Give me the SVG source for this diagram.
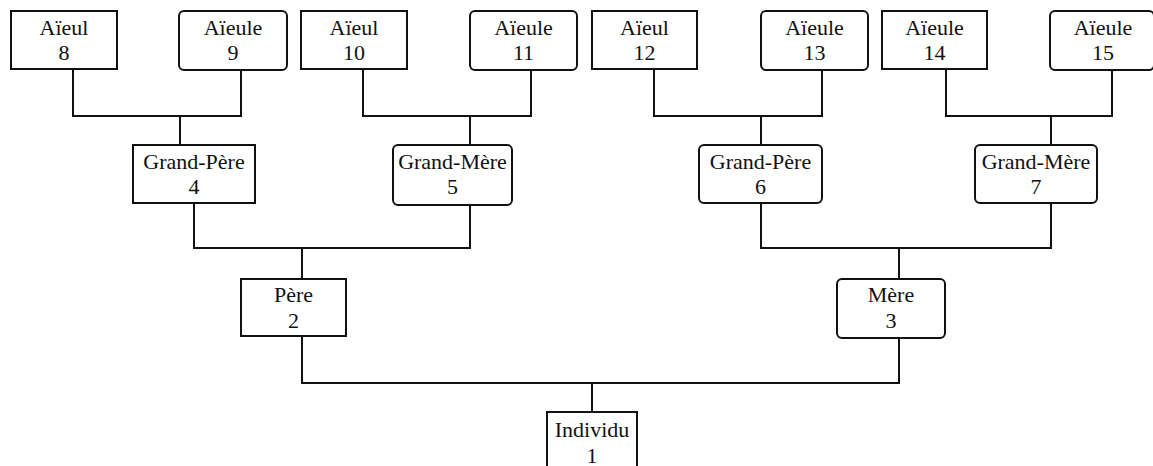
<svg xmlns="http://www.w3.org/2000/svg" width="1153" height="466" viewBox="0 0 1153 466">
<style>
.b{fill:#fff;stroke:#111;stroke-width:2}
.c{fill:none;stroke:#111;stroke-width:2}
text{font-size:22px;fill:#111;text-anchor:middle;font-family:'Times New Roman',serif}
#n1 text,#n2 text,#n3 text,#n4 text,#n5 text,#n6 text,#n7 text,#n8 text,#n9 text,#n10 text,#n11 text,#n12 text,#n13 text,#n14 text,#n15 text{font-family:'Times New Roman',serif}
</style>
<rect width="1153" height="466" fill="#fff"/>
<g id="connectors" class="c">
<path d="M73 69V116H241V70M180 116V145"/>
<path d="M363 69V116H531V70M470 116V145"/>
<path d="M654 69V116H822V70M761 116V145"/>
<path d="M946 69V116H1112V70M1051 116V145"/>
<path d="M194 203V248H470V205M302 248V279"/>
<path d="M761 203V248H1051V203M899 248V279"/>
<path d="M302 336V383H899V338M592 383V412"/>
</g>
<g id="n8"><rect class="b" x="11" y="11" width="106" height="58"/><text x="64" y="35">Aïeul</text><text x="64" y="60">8</text></g>
<g id="n9"><rect class="b" x="179" y="11" width="108" height="59" rx="5"/><text x="233" y="35">Aïeule</text><text x="233" y="60">9</text></g>
<g id="n10"><rect class="b" x="301" y="11" width="106" height="58"/><text x="354" y="35">Aïeul</text><text x="354" y="60">10</text></g>
<g id="n11"><rect class="b" x="470" y="11" width="107" height="59" rx="5"/><text x="523.5" y="35">Aïeule</text><text x="523.5" y="60">11</text></g>
<g id="n12"><rect class="b" x="592" y="11" width="105" height="58"/><text x="644.5" y="35">Aïeul</text><text x="644.5" y="60">12</text></g>
<g id="n13"><rect class="b" x="761" y="11" width="107" height="59" rx="5"/><text x="814.5" y="35">Aïeule</text><text x="814.5" y="60">13</text></g>
<g id="n14"><rect class="b" x="882" y="11" width="105" height="58"/><text x="934.5" y="35">Aïeule</text><text x="934.5" y="60">14</text></g>
<g id="n15"><rect class="b" x="1050" y="11" width="104" height="59" rx="5"/><text x="1103" y="35">Aïeule</text><text x="1103" y="60">15</text></g>
<g id="n4"><rect class="b" x="133" y="145" width="122" height="58"/><text x="194" y="169">Grand-Père</text><text x="194" y="194">4</text></g>
<g id="n5"><rect class="b" x="393" y="145" width="119" height="60" rx="5"/><text x="452.5" y="169">Grand-Mère</text><text x="452.5" y="194">5</text></g>
<g id="n6"><rect class="b" x="699" y="145" width="123" height="58" rx="5"/><text x="760.5" y="169">Grand-Père</text><text x="760.5" y="194">6</text></g>
<g id="n7"><rect class="b" x="975" y="145" width="122" height="58" rx="5"/><text x="1036" y="169">Grand-Mère</text><text x="1036" y="194">7</text></g>
<g id="n2"><rect class="b" x="241" y="279" width="105" height="57"/><text x="293.5" y="302">Père</text><text x="293.5" y="328">2</text></g>
<g id="n3"><rect class="b" x="837" y="279" width="108" height="59" rx="5"/><text x="891" y="302">Mère</text><text x="891" y="328">3</text></g>
<g id="n1"><rect class="b" x="547" y="412" width="90" height="62"/><text x="592" y="437">Individu</text><text x="592" y="463">1</text></g>
</svg>
